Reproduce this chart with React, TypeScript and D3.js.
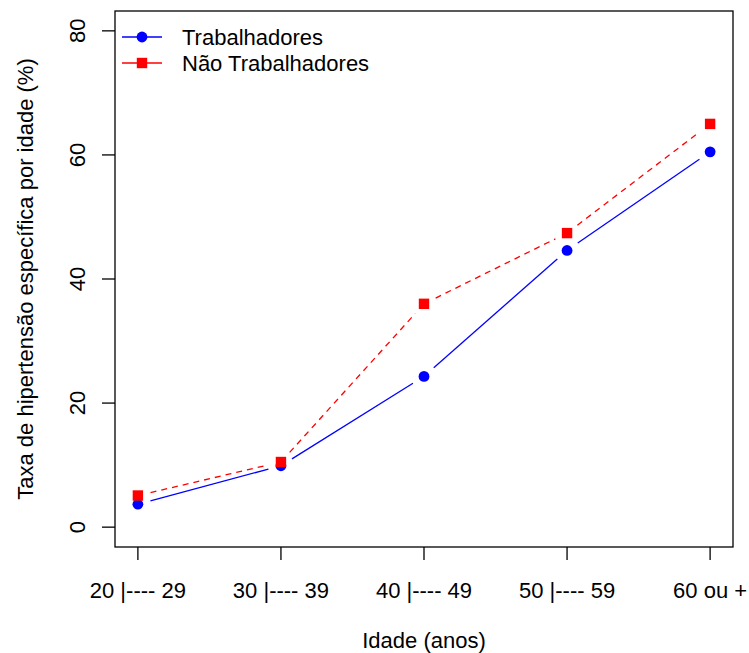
import React, { useEffect, useRef } from 'react';
import * as d3 from 'd3';

const faixas = ['20 |---- 29', '30 |---- 39', '40 |---- 49', '50 |---- 59', '60 ou +'];
const trabalhadores = [3.7, 9.9, 24.3, 44.6, 60.5];
const naoTrabalhadores = [5.1, 10.5, 36.0, 47.4, 65.0];
const yTicks = [0, 20, 40, 60, 80];
const seriesNames = ['Trabalhadores', 'Não Trabalhadores'];

const W = 749;
const H = 653;
const FONT = '"Liberation Sans", Arial, sans-serif';
const FS = 22;

const App = () => {
  const ref = useRef<SVGSVGElement | null>(null);

  useEffect(() => {
    if (!ref.current) return;
    const svg = d3.select(ref.current);
    svg.selectAll('*').remove();

    // plot region (R default box)
    const left = 115, right = 733, top = 11, bottom = 547;

    const x = d3.scaleLinear().domain([0.84, 5.16]).range([left, right]);
    const y = d3.scaleLinear().domain([-3.2, 83.2]).range([bottom, top]);

    svg.append('rect')
      .attr('width', W).attr('height', H).attr('fill', '#fff');

    // type = "b": segments with gaps around each point
    const gap = 13;
    const drawSeries = (vals: number[], color: string, dash: string | null) => {
      const pts = vals.map((v, i) => [x(i + 1), y(v)]);
      const g = svg.append('g');
      for (let i = 0; i < pts.length - 1; i++) {
        const [x0, y0] = pts[i];
        const [x1, y1] = pts[i + 1];
        const len = Math.hypot(x1 - x0, y1 - y0);
        if (len <= 2 * gap) continue;
        const ux = (x1 - x0) / len, uy = (y1 - y0) / len;
        const seg = g.append('line')
          .attr('x1', x0 + ux * gap).attr('y1', y0 + uy * gap)
          .attr('x2', x1 - ux * gap).attr('y2', y1 - uy * gap)
          .attr('stroke', color)
          .attr('stroke-width', 1.3);
        if (dash) seg.attr('stroke-dasharray', dash);
      }
      return { g, pts };
    };

    const s1 = drawSeries(trabalhadores, '#0000FF', null);
    s1.g.selectAll('circle').data(s1.pts).join('circle')
      .attr('cx', d => d[0]).attr('cy', d => d[1]).attr('r', 5.4)
      .attr('fill', '#0000FF');

    const s2 = drawSeries(naoTrabalhadores, '#FF0000', '6,5');
    s2.g.selectAll('rect').data(s2.pts).join('rect')
      .attr('x', d => d[0] - 5.2).attr('y', d => d[1] - 5.2)
      .attr('width', 10.4).attr('height', 10.4)
      .attr('fill', '#FF0000');

    // box
    svg.append('rect')
      .attr('x', left).attr('y', top)
      .attr('width', right - left).attr('height', bottom - top)
      .attr('fill', 'none').attr('stroke', '#000').attr('stroke-width', 1.3);

    // x axis
    const xa = svg.append('g');
    faixas.forEach((lab, i) => {
      const xp = x(i + 1);
      xa.append('line')
        .attr('x1', xp).attr('x2', xp).attr('y1', bottom).attr('y2', bottom + 13)
        .attr('stroke', '#000').attr('stroke-width', 1.3);
      xa.append('text')
        .attr('x', xp).attr('y', 598)
        .attr('text-anchor', 'middle')
        .attr('font-family', FONT).attr('font-size', FS)
        .text(lab);
    });

    // y axis
    const ya = svg.append('g');
    yTicks.forEach(t => {
      const yp = y(t);
      ya.append('line')
        .attr('x1', left - 13).attr('x2', left).attr('y1', yp).attr('y2', yp)
        .attr('stroke', '#000').attr('stroke-width', 1.3);
      ya.append('text')
        .attr('transform', `translate(85, ${yp}) rotate(-90)`)
        .attr('text-anchor', 'middle')
        .attr('font-family', FONT).attr('font-size', FS)
        .text(t);
    });

    // axis titles
    svg.append('text')
      .attr('x', (left + right) / 2).attr('y', 648)
      .attr('text-anchor', 'middle')
      .attr('font-family', FONT).attr('font-size', FS)
      .text('Idade (anos)');

    svg.append('text')
      .attr('transform', `translate(33, ${(top + bottom) / 2}) rotate(-90)`)
      .attr('text-anchor', 'middle')
      .attr('font-family', FONT).attr('font-size', FS)
      .text('Taxa de hipertensão específica por idade (%)');

    // legend
    const lg = svg.append('g');
    const rows = [
      { name: seriesNames[0], color: '#0000FF', y: 37 },
      { name: seriesNames[1], color: '#FF0000', y: 63 },
    ];
    rows.forEach((r, i) => {
      lg.append('line')
        .attr('x1', 122).attr('x2', 162).attr('y1', r.y).attr('y2', r.y)
        .attr('stroke', r.color).attr('stroke-width', 1.3);
      if (i === 0) {
        lg.append('circle').attr('cx', 142).attr('cy', r.y).attr('r', 5.4).attr('fill', r.color);
      } else {
        lg.append('rect').attr('x', 142 - 5.2).attr('y', r.y - 5.2)
          .attr('width', 10.4).attr('height', 10.4).attr('fill', r.color);
      }
      lg.append('text')
        .attr('x', 182).attr('y', r.y + 8)
        .attr('font-family', FONT).attr('font-size', FS)
        .text(r.name);
    });
  }, []);

  return (
    <svg
      ref={ref}
      width={W}
      height={H}
      style={{ position: 'absolute', left: 0, top: 0, display: 'block' }}
    />
  );
};

export default App;
